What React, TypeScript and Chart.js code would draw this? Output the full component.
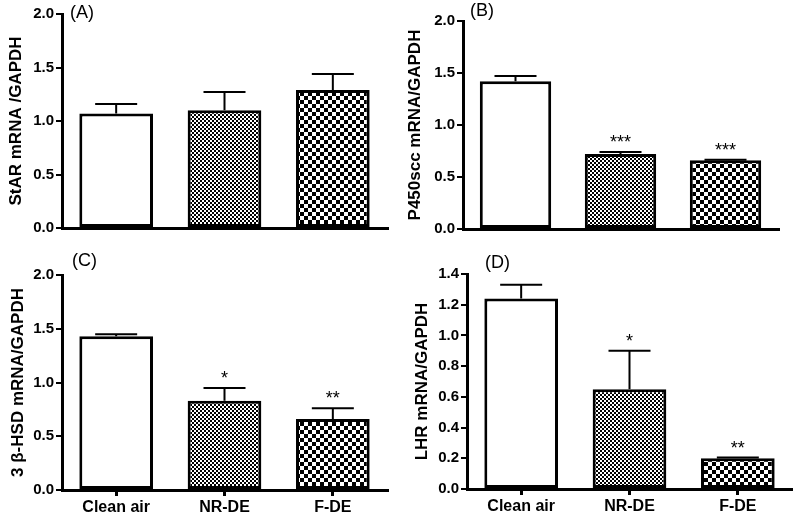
import React, { useEffect, useRef } from 'react';
import { Chart, registerables } from 'chart.js';

Chart.register(...registerables);

const FONT = '"Liberation Sans", Arial, Helvetica, sans-serif';

const categories = ['Clean air', 'NR-DE', 'F-DE'];

const starValues = [1.07, 1.1, 1.29];
const starErrors = [0.09, 0.17, 0.15];
const starSig = ['', '', ''];

const p450Values = [1.42, 0.72, 0.66];
const p450Errors = [0.05, 0.02, 0.005];
const p450Sig = ['', '***', '***'];

const hsdValues = [1.43, 0.83, 0.66];
const hsdErrors = [0.02, 0.12, 0.1];
const hsdSig = ['', '*', '**'];

const lhrValues = [1.24, 0.65, 0.2];
const lhrErrors = [0.09, 0.25, 0.005];
const lhrSig = ['', '*', '**'];

type Panel = {
  label: string;
  title: string;
  values: number[];
  errors: number[];
  sig: string[];
  yMax: number;
  yStep: number;
  showX: boolean;
  box: { left: number; top: number; width: number; height: number };
  area: { left: number; top: number; right: number; bottom: number };
  titlePad: number;
  labelPos: { x: number; y: number };
};

const panels: Panel[] = [
  {
    label: '(A)', title: 'StAR mRNA /GAPDH', values: starValues, errors: starErrors, sig: starSig,
    yMax: 2, yStep: 0.5, showX: false,
    box: { left: 0, top: 0, width: 396, height: 250 },
    area: { left: 62, top: 14, right: 387, bottom: 228 },
    titlePad: 6, labelPos: { x: 70, y: 18 },
  },
  {
    label: '(B)', title: 'P450scc mRNA/GAPDH', values: p450Values, errors: p450Errors, sig: p450Sig,
    yMax: 2, yStep: 0.5, showX: false,
    box: { left: 396, top: 0, width: 397, height: 250 },
    area: { left: 67, top: 21, right: 382, bottom: 229 },
    titlePad: 9, labelPos: { x: 74, y: 16 },
  },
  {
    label: '(C)', title: '3 \u03b2-HSD mRNA/GAPDH', values: hsdValues, errors: hsdErrors, sig: hsdSig,
    yMax: 2, yStep: 0.5, showX: true,
    box: { left: 0, top: 250, width: 396, height: 267 },
    area: { left: 62, top: 25, right: 387, bottom: 240 },
    titlePad: 8, labelPos: { x: 72, y: 16 },
  },
  {
    label: '(D)', title: 'LHR mRNA/GAPDH', values: lhrValues, errors: lhrErrors, sig: lhrSig,
    yMax: 1.4, yStep: 0.2, showX: true,
    box: { left: 396, top: 250, width: 397, height: 267 },
    area: { left: 71, top: 24, right: 396, bottom: 239 },
    titlePad: 16, labelPos: { x: 89, y: 18 },
  },
];

function makeChecker(ctx: CanvasRenderingContext2D, cell: number): CanvasPattern | string {
  const c = document.createElement('canvas');
  c.width = cell * 2;
  c.height = cell * 2;
  const g = c.getContext('2d');
  if (!g) return '#888';
  g.fillStyle = '#ffffff';
  g.fillRect(0, 0, cell * 2, cell * 2);
  g.fillStyle = '#000000';
  g.fillRect(0, 0, cell, cell);
  g.fillRect(cell, cell, cell, cell);
  return ctx.createPattern(c, 'repeat') || '#888';
}

function makePlugin(p: Panel) {
  return {
    id: 'errbars',
    afterDatasetsDraw(chart: any) {
      const ctx = chart.ctx as CanvasRenderingContext2D;
      const meta = chart.getDatasetMeta(0);
      const y = chart.scales.y;
      ctx.save();
      ctx.strokeStyle = '#000';
      ctx.fillStyle = '#000';
      ctx.lineWidth = 2;
      meta.data.forEach((bar: any, i: number) => {
        const top = y.getPixelForValue(p.values[i]);
        const et = y.getPixelForValue(p.values[i] + p.errors[i]);
        ctx.beginPath();
        ctx.moveTo(bar.x, top);
        ctx.lineTo(bar.x, et);
        ctx.moveTo(bar.x - 21, et);
        ctx.lineTo(bar.x + 21, et);
        ctx.stroke();
        if (p.sig[i]) {
          ctx.font = `18px ${FONT}`;
          ctx.textAlign = 'center';
          ctx.textBaseline = 'alphabetic';
          ctx.fillText(p.sig[i], bar.x, et - 4);
        }
      });
      ctx.font = `18px ${FONT}`;
      ctx.textAlign = 'left';
      ctx.textBaseline = 'alphabetic';
      ctx.fillText(p.label, p.labelPos.x, p.labelPos.y);
      ctx.restore();
    },
  };
}

function PanelChart({ p }: { p: Panel }) {
  const ref = useRef<HTMLCanvasElement | null>(null);
  useEffect(() => {
    const canvas = ref.current;
    if (!canvas) return;
    const ctx = canvas.getContext('2d');
    if (!ctx) return;
    const fine = makeChecker(ctx, 2);
    const coarse = makeChecker(ctx, 4);
    const chart = new Chart(canvas, {
      type: 'bar',
      data: {
        labels: categories,
        datasets: [
          {
            data: p.values,
            backgroundColor: ['#ffffff', fine, coarse] as any,
            borderColor: '#000',
            borderWidth: 3,
            borderSkipped: false,
            barPercentage: 0.68,
            categoryPercentage: 1,
          },
        ],
      },
      options: {
        responsive: false,
        animation: false,
        devicePixelRatio: 1,
        layout: {
          padding: { left: 0, top: p.area.top, right: p.box.width - p.area.right, bottom: 0 },
        },
        plugins: { legend: { display: false }, tooltip: { enabled: false } },
        scales: {
          x: {
            offset: true,
            grid: {
              display: true,
              drawOnChartArea: false,
              drawTicks: p.showX,
              tickLength: 6,
              lineWidth: 3,
              color: '#000',
              offset: false,
            },
            border: { display: true, width: 3, color: '#000' },
            ticks: {
              display: p.showX,
              color: '#000',
              font: { family: FONT, size: 16, weight: 'bold' },
              padding: 2,
              maxRotation: 0,
              autoSkip: false,
            },
            afterFit: (s: any) => {
              s.height = p.box.height - p.area.bottom;
            },
          } as any,
          y: {
            min: 0,
            max: p.yMax,
            ticks: {
              stepSize: p.yStep,
              color: '#000',
              font: { family: FONT, size: 15, weight: 'bold' },
              padding: 2,
              callback: (v: any) => Number(v).toFixed(1),
            },
            grid: {
              drawOnChartArea: false,
              drawTicks: true,
              tickLength: 6,
              lineWidth: 2,
              color: '#000',
            },
            border: { display: true, width: 3, color: '#000' },
            title: {
              display: true,
              text: p.title,
              color: '#000',
              font: { family: FONT, size: 17, weight: 'bold' },
              padding: { top: p.titlePad, bottom: 0 },
            },
            afterFit: (s: any) => {
              s.width = p.area.left;
            },
          } as any,
        },
      },
      plugins: [makePlugin(p)],
    });
    return () => chart.destroy();
  }, [p]);
  return (
    <canvas
      ref={ref}
      width={p.box.width}
      height={p.box.height}
      style={{
        position: 'absolute',
        left: p.box.left,
        top: p.box.top,
        width: p.box.width,
        height: p.box.height,
      }}
    />
  );
}

export default function App() {
  return (
    <div
      style={{
        position: 'absolute',
        left: 0,
        top: 0,
        width: 793,
        height: 517,
        background: '#fff',
        overflow: 'hidden',
      }}
    >
      {panels.map((p) => (
        <PanelChart key={p.label} p={p} />
      ))}
    </div>
  );
}
